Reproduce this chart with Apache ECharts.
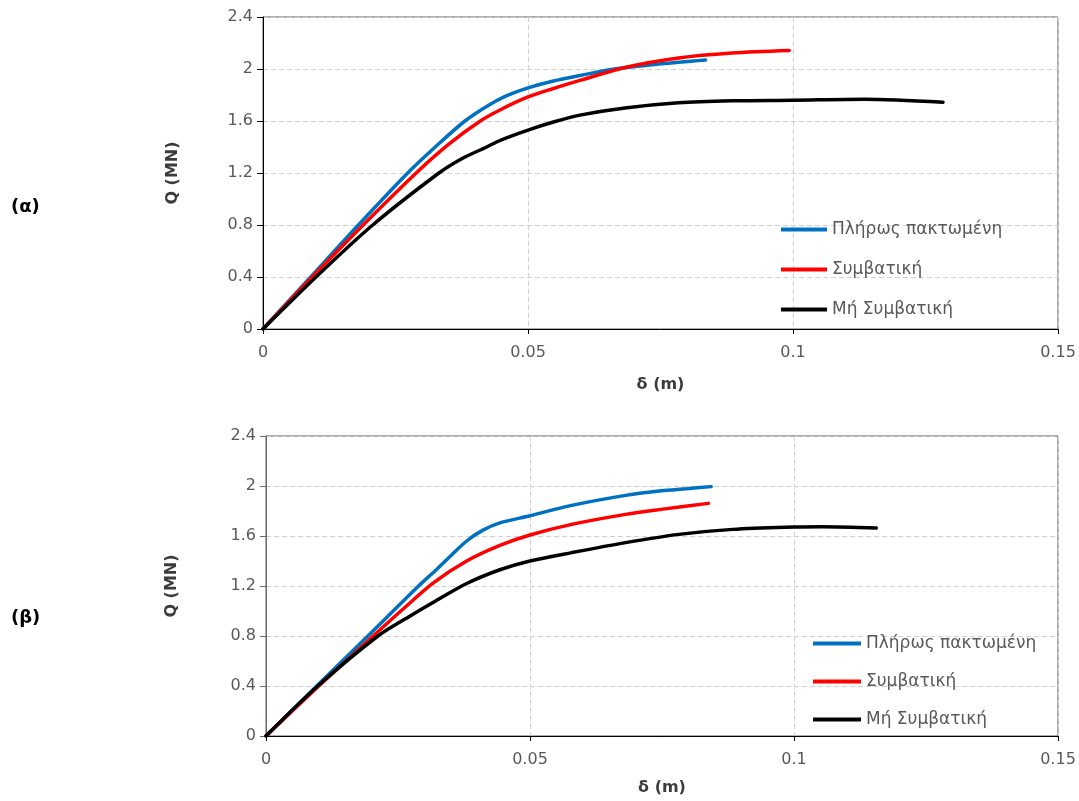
<!DOCTYPE html>
<html>
<head>
<meta charset="utf-8">
<script src="https://cdn.jsdelivr.net/npm/echarts@6/dist/echarts.min.js"></script>
<style>
  html, body { margin: 0; padding: 0; background: #ffffff; }
  #chart { width: 1079px; height: 801px; }
</style>
</head>
<body>
<div id="chart"></div>
<script>
// Load–displacement curves Q(δ) for three pile-head conditions, two cases (α) and (β)
const seriesNames = ['Πλήρως πακτωμένη', 'Συμβατική', 'Μή Συμβατική'];
const seriesColors = ['#0070c0', '#ff0000', '#000000'];
const xTickLabels = ['0', '0.05', '0.1', '0.15'];
const yTickLabels = ['0', '0.4', '0.8', '1.2', '1.6', '2', '2.4'];

// Case (α)
const deltaA_full = [0, 0.009, 0.018, 0.0273, 0.0325, 0.0381, 0.0425, 0.046, 0.05, 0.0548, 0.0598, 0.0663, 0.0751, 0.0835];
const qA_full     = [0, 0.4, 0.8, 1.2, 1.4, 1.6, 1.72, 1.795, 1.855, 1.908, 1.95, 2.0, 2.04, 2.07];
const deltaA_conv = [0, 0.0093, 0.0189, 0.0289, 0.035, 0.041, 0.0447, 0.05, 0.0548, 0.0598, 0.0683, 0.0784, 0.0885, 0.0993];
const qA_conv     = [0, 0.4, 0.8, 1.2, 1.42, 1.6, 1.685, 1.785, 1.85, 1.912, 2.012, 2.085, 2.123, 2.142];
const deltaA_nonc = [0, 0.0100, 0.0207, 0.0332, 0.0375, 0.0422, 0.0447, 0.05, 0.0548, 0.0598, 0.0683, 0.0784, 0.0885, 0.1, 0.1135, 0.1283];
const qA_nonc     = [0, 0.4, 0.8, 1.2, 1.31, 1.40, 1.45, 1.53, 1.592, 1.645, 1.70, 1.74, 1.755, 1.76, 1.768, 1.745];

// Case (β)
const deltaB_full = [0, 0.0096, 0.0193, 0.0289, 0.032, 0.0352, 0.038, 0.041, 0.0443, 0.05, 0.0579, 0.0681, 0.0748, 0.0796, 0.0843];
const qB_full     = [0, 0.4, 0.8, 1.2, 1.32, 1.45, 1.56, 1.645, 1.705, 1.762, 1.845, 1.925, 1.962, 1.978, 1.995];
const deltaB_conv = [0, 0.01, 0.0203, 0.0258, 0.0317, 0.038, 0.0443, 0.05, 0.0579, 0.0681, 0.0748, 0.0838];
const qB_conv     = [0, 0.4, 0.8, 1.01, 1.225, 1.40, 1.525, 1.608, 1.693, 1.773, 1.813, 1.861];
const deltaB_nonc = [0, 0.0098, 0.0212, 0.0273, 0.0317, 0.038, 0.0443, 0.05, 0.0579, 0.0681, 0.0782, 0.0884, 0.1, 0.1053, 0.1156];
const qB_nonc     = [0, 0.4, 0.8, 0.96, 1.07, 1.22, 1.33, 1.40, 1.467, 1.547, 1.613, 1.653, 1.672, 1.675, 1.664];

const FONT = 'DejaVu Sans';
const LABEL_GREY = '#595959';
const TITLE_COLOR = '#3b3b3b';

function pairs(xs, ys) { return xs.map((x, i) => [x, ys[i]]); }

function makeXAxis(gridIndex, nameGap) {
  return {
    type: 'value', gridIndex: gridIndex, min: 0, max: 0.15, interval: 0.05,
    axisLine: { show: true, onZero: false, lineStyle: { color: '#000000', width: 1 } },
    axisTick: { show: true, length: 5, lineStyle: { color: '#000000' } },
    axisLabel: { color: LABEL_GREY, fontSize: 16, fontFamily: FONT, margin: 16,
                 formatter: (v, i) => xTickLabels[i] },
    splitLine: { show: true, lineStyle: { color: '#d0d0d0', width: 1, type: [5, 3] } },
    name: 'δ (m)', nameLocation: 'middle', nameGap: nameGap,
    nameTextStyle: { color: TITLE_COLOR, fontSize: 16, fontWeight: 'bold', fontFamily: FONT }
  };
}

function makeYAxis(gridIndex, lineColor, nameGap) {
  return {
    type: 'value', gridIndex: gridIndex, min: 0, max: 2.4, interval: 0.4,
    axisLine: { show: true, onZero: false, lineStyle: { color: lineColor, width: 1 } },
    axisTick: { show: true, length: 6, lineStyle: { color: lineColor } },
    axisLabel: { color: LABEL_GREY, fontSize: 16, fontFamily: FONT, margin: 10,
                 formatter: (v, i) => yTickLabels[i] },
    splitLine: { show: true, lineStyle: { color: '#d0d0d0', width: 1, type: [5, 3] } },
    name: 'Q (MN)', nameLocation: 'middle', nameGap: nameGap,
    nameTextStyle: { color: TITLE_COLOR, fontSize: 16, fontWeight: 'bold', fontFamily: FONT }
  };
}

function makeSeries(name, color, data, idx) {
  return {
    name: name, type: 'line', xAxisIndex: idx, yAxisIndex: idx,
    data: data, symbol: 'none', showSymbol: false,
    smooth: 0.3,
    lineStyle: { color: color, width: 3.5, cap: 'round' },
    itemStyle: { color: color },
    z: 3
  };
}

function makeLegend(left, top, itemWidth, gap) {
  return {
    orient: 'vertical', left: left, top: top,
    itemWidth: itemWidth, itemHeight: 4, itemGap: gap, icon: 'rect',
    selectedMode: false,
    textStyle: { color: LABEL_GREY, fontSize: 17, fontFamily: FONT, lineHeight: 17 },
    data: seriesNames
  };
}

const chart = echarts.init(document.getElementById('chart'), null, { renderer: 'canvas' });

const option = {
  animation: false,
  backgroundColor: '#ffffff',
  grid: [
    { left: 263, top: 17, width: 795, height: 312, show: true, borderColor: '#5a5a5a', borderWidth: 1 },
    { left: 266, top: 436, width: 792, height: 300, show: true, borderColor: '#5a5a5a', borderWidth: 1 }
  ],
  xAxis: [ makeXAxis(0, 48), makeXAxis(1, 44) ],
  yAxis: [ makeYAxis(0, '#000000', 82), makeYAxis(1, '#6a6a6a', 86) ],
  legend: [ makeLegend(776, 216, 46, 23), makeLegend(808, 630, 48, 21) ],
  graphic: [
    { type: 'text', left: 11, top: 198,
      style: { text: '(α)', font: 'bold 18px "DejaVu Sans"', fill: '#000000' } },
    { type: 'text', left: 11, top: 609,
      style: { text: '(β)', font: 'bold 18px "DejaVu Sans"', fill: '#000000' } }
  ],
  series: [
    makeSeries(seriesNames[0], seriesColors[0], pairs(deltaA_full, qA_full), 0),
    makeSeries(seriesNames[1], seriesColors[1], pairs(deltaA_conv, qA_conv), 0),
    makeSeries(seriesNames[2], seriesColors[2], pairs(deltaA_nonc, qA_nonc), 0),
    makeSeries(seriesNames[0], seriesColors[0], pairs(deltaB_full, qB_full), 1),
    makeSeries(seriesNames[1], seriesColors[1], pairs(deltaB_conv, qB_conv), 1),
    makeSeries(seriesNames[2], seriesColors[2], pairs(deltaB_nonc, qB_nonc), 1)
  ]
};

chart.setOption(option);
</script>
</body>
</html>
